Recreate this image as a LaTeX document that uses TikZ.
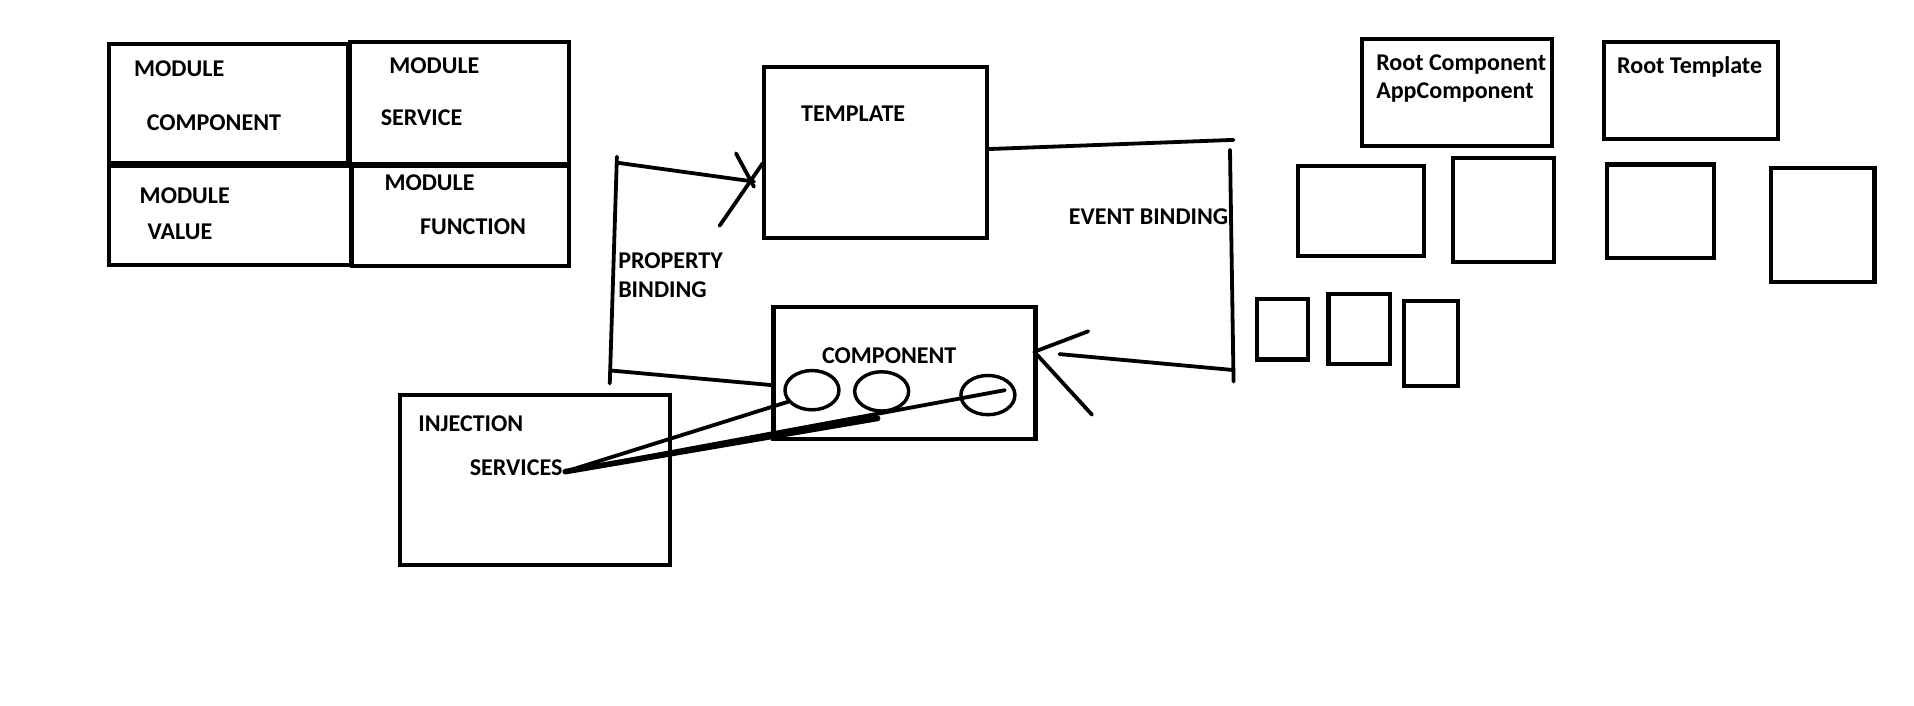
\documentclass[tikz,border=0pt]{standalone}
\usepackage{fontspec}
\setmainfont{Carlito}
\usetikzlibrary{fit,shapes.geometric}
\begin{document}
\begin{tikzpicture}[x=0.5pt,y=-0.5pt,
  box/.style={draw,line width=1.7pt,inner sep=0pt,rectangle},
  lbl/.style={inner sep=0pt,anchor=base west,font=\bfseries\fontsize{9.8}{11.6}\selectfont},
  wire/.style={line width=1.55pt,line cap=round},
  ring/.style={draw,ellipse,line width=1.4pt,inner sep=0pt,minimum width=22pt,minimum height=16pt}]
\fill[white] (0,0) rectangle (1560,575.4);
\useasboundingbox (0,0) rectangle (1560,575.4);
% module boxes
\node[box,fit={(89,36) (284,133)}] (mc) {};
\node[box,fit={(285.6,34.5) (464,134)}] (ms) {};
\node[box,fit={(89,135) (286,216)}] (mv) {};
\node[box,fit={(287,135) (464,217)}] (mf) {};
\node[lbl] (mc1) at (109,62) {MODULE};
\node[lbl] (mc2) at (119.3,106) {COMPONENT};
\node[lbl] (ms1) at (317,59.8) {MODULE};
\node[lbl] (ms2) at (310,102.3) {SERVICE};
\node[lbl] (mv1) at (113.5,165.8) {MODULE};
\node[lbl] (mv2) at (120,195.3) {VALUE};
\node[lbl] (mf1) at (313,155.3) {MODULE};
\node[lbl] (mf2) at (342,191) {FUNCTION};
% template and component
\node[box,fit={(622.8,54.3) (804.6,194)}] (tpl) {};
\node[lbl] (tpltxt) at (652.6,98.7) {TEMPLATE};
\node[box,fit={(630.5,250.5) (844,357.5)}] (cmp) {};
\node[lbl] (cmptxt) at (669.7,296.3) {COMPONENT};
\node[ring] (c1) at (661.8,318) {};
\node[ring] (c2) at (718.6,319) {};
\node[ring] (c3) at (805.2,322) {};
% injection
\node[box,fit={(326,322) (546,460.5)}] (inj) {};
\node[lbl] (injtxt) at (340.6,352) {INJECTION};
\node[lbl] (svtxt) at (382.5,387.3) {SERVICES};
% labels
\node[lbl] (pb1) at (503.5,219) {PROPERTY};
\node[lbl] (pb2) at (503.5,242.3) {BINDING};
\node[lbl] (eb) at (870.8,182.9) {EVENT BINDING};
% root boxes
\node[box,fit={(1110,31.8) (1265,118.8)}] (rc) {};
\node[lbl] (rc1) at (1121.3,57.1) {Root Component};
\node[lbl] (rc2) at (1121.3,80.3) {AppComponent};
\node[box,fit={(1307,34) (1449.3,113.6)}] (rt) {};
\node[lbl] (rt1) at (1317.7,59.8) {Root Template};
\node[box,fit={(1058,135) (1160.5,208.5)}] (b1) {};
\node[box,fit={(1184,129) (1266.5,213.3)}] (b2) {};
\node[box,fit={(1310,134) (1396.7,210.6)}] (b3) {};
\node[box,fit={(1443.7,137) (1527.8,229.6)}] (b4) {};
\node[box,fit={(1024.6,243.7) (1066,293)}] (s1) {};
\node[box,fit={(1082.8,239.6) (1133.2,297)}] (s2) {};
\node[box,fit={(1144,245.4) (1188.6,314.4)}] (s3) {};
% property binding connector
\coordinate (pbTop) at (502.8,127.7);
\coordinate (pbBot) at (497,312.5);
\coordinate (pbA) at (502.8,132.6);
\coordinate (pbTip) at (614.5,148);
\coordinate (pbH1) at (599.9,125);
\coordinate (pbH1e) at (614.5,152.2);
\coordinate (pbH2) at (586.5,184);
\coordinate (pbH2e) at (621.7,133);
\coordinate (pbB) at (498,302);
\coordinate (pbBe) at (630.5,314);
\draw[wire] (pbTop) -- (pbBot);
\draw[wire] (pbA) -- (pbTip);
\draw[wire] (pbH1) -- (pbH1e);
\draw[wire] (pbH2) -- (pbH2e);
\draw[wire] (pbB) -- (pbBe);
% event binding connector
\coordinate (evA) at (805,121.5);
\coordinate (evB) at (1005.4,114);
\coordinate (evTop) at (1002.5,122);
\coordinate (evBot) at (1005.4,311);
\coordinate (evC) at (1005.4,301.6);
\coordinate (evD) at (863.5,288.6);
\coordinate (evTip) at (843,286.7);
\coordinate (evH1) at (887,270);
\coordinate (evH2) at (890,338);
\draw[wire] (evA) -- (evB);
\draw[wire] (evTop) -- (evBot);
\draw[wire] (evC) -- (evD);
\draw[wire] (evH1) -- (evTip);
\draw[wire] (evH2) -- (evTip);
% services connectors
\coordinate (sv) at (460.7,384.4);
\coordinate (sv1) at (642.5,327.4);
\coordinate (sv3) at (819,318);
\coordinate (sv2) at (715.3,341);
\draw[wire] (sv) -- (sv1);
\draw[wire] (sv) -- (sv3);
\draw[line width=2.3pt,line cap=round] (sv) -- (sv2);
\end{tikzpicture}
\end{document}
